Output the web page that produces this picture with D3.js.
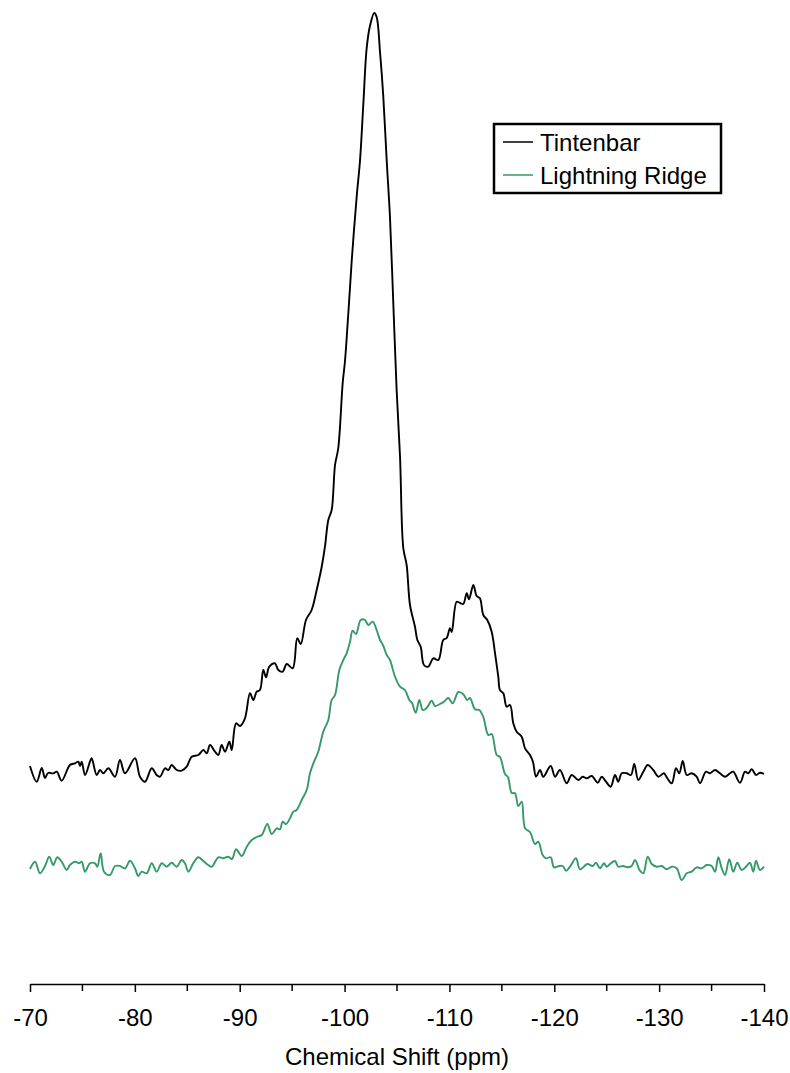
<!DOCTYPE html>
<html>
<head>
<meta charset="utf-8">
<script src="https://cdn.jsdelivr.net/npm/d3@7"></script>
<style>
  html, body { margin: 0; padding: 0; background: #fff; }
  svg { display: block; }
  text { font-family: "Liberation Sans", Arial, sans-serif; }
</style>
</head>
<body>
<svg id="chart" width="790" height="1073"></svg>
<script>
// ---- Data ----
const seriesNames = ["Tintenbar", "Lightning Ridge"];
const seriesColors = ["#000000", "#36996a"];

const tintenbarPpm = [-70.00,-70.64,-71.12,-71.43,-71.72,-72.22,-72.55,-73.02,-73.81,-74.29,-74.61,-74.77,-74.93,-75.25,-75.72,-75.88,-76.36,-76.68,-76.99,-77.47,-78.11,-78.58,-79.06,-80.01,-80.49,-80.97,-81.61,-82.08,-82.40,-82.87,-83.19,-83.51,-83.99,-84.47,-84.94,-85.42,-86.05,-86.53,-86.85,-87.17,-87.64,-87.96,-88.28,-88.60,-89.01,-89.24,-89.65,-90.03,-90.50,-90.98,-91.30,-91.62,-91.93,-92.25,-92.51,-92.82,-93.36,-93.68,-94.10,-94.48,-95.05,-95.49,-95.82,-96.32,-96.86,-97.34,-97.82,-98.13,-98.45,-98.77,-99.09,-99.40,-99.82,-100.04,-100.36,-100.68,-101.16,-101.47,-101.79,-102.11,-102.42,-102.83,-103.06,-103.38,-103.69,-104.02,-104.33,-104.65,-104.97,-105.29,-105.60,-105.92,-106.24,-106.72,-106.94,-107.26,-107.57,-107.98,-108.46,-108.94,-109.41,-109.74,-110.05,-110.22,-110.69,-111.01,-111.32,-111.65,-111.87,-112.28,-112.60,-112.91,-113.23,-113.61,-114.03,-114.35,-114.66,-114.82,-115.14,-115.46,-115.78,-116.09,-116.41,-116.89,-117.21,-117.68,-117.97,-118.26,-118.64,-118.95,-119.66,-120.07,-120.54,-121.18,-121.66,-122.29,-122.71,-123.09,-123.57,-124.14,-124.52,-124.93,-125.38,-125.79,-126.10,-126.43,-126.90,-127.31,-127.63,-128.01,-128.49,-128.91,-129.44,-129.92,-130.46,-130.72,-131.20,-131.61,-131.92,-132.25,-132.63,-133.10,-133.58,-133.90,-134.47,-134.85,-135.33,-135.80,-136.28,-136.76,-137.07,-137.71,-138.19,-138.50,-138.83,-139.24,-139.62,-140.00];
const tintenbarVal = [21.8,20.23,21.6,20.6,21.1,21.07,21.23,20.33,21.9,22.07,22.23,21.8,22.23,20.9,22.23,22.57,20.9,21.4,21.07,21.57,20.73,22.4,21.07,22.57,20.73,20.23,21.57,20.9,20.73,21.57,21.4,21.9,21.4,21.33,21.73,22.73,22.9,23.4,23.07,23.9,23.23,22.9,23.9,23.23,24.23,23.4,26.07,25.8,26.57,29.07,28.4,29.23,29.4,31.4,30.67,31.73,32.07,31.4,31.23,32.0,31.57,34.57,34.0,36.4,37.4,39.4,41.73,43.73,46.4,47.4,51.9,53.6,60.1,62.3,67.1,72.3,78.8,82.3,88.0,93.6,95.8,97.1,96.7,93.2,88.8,82.3,76.7,68.0,59.3,52.7,43.6,41.9,37.9,35.7,34.4,33.73,31.9,31.73,32.57,32.4,34.4,34.6,35.57,35.2,38.23,38.1,38.0,39.07,38.47,39.9,38.8,38.57,36.9,36.4,35.23,33.07,30.73,29.4,29.07,27.73,27.9,26.07,25.23,24.73,23.57,22.9,22.2,20.73,21.4,20.73,21.8,20.73,21.4,20.07,20.9,20.4,20.73,20.57,20.8,20.13,20.73,20.23,19.73,20.9,20.23,21.07,21.07,20.9,22.0,20.4,21.23,21.9,21.4,20.73,21.07,20.67,20.07,21.57,21.07,22.3,20.9,21.07,20.73,20.07,21.23,21.07,21.4,21.07,20.73,21.07,21.23,20.13,21.23,21.07,21.47,20.9,21.13,21.0];

const ridgePpm = [-70.00,-70.48,-70.95,-71.43,-71.84,-72.22,-72.60,-73.02,-73.50,-73.81,-74.29,-74.70,-74.93,-75.25,-75.72,-76.20,-76.42,-76.74,-77.06,-77.63,-78.11,-78.58,-79.06,-79.54,-80.01,-80.33,-80.65,-81.13,-81.61,-82.08,-82.56,-83.04,-83.51,-83.99,-84.47,-84.78,-85.10,-85.57,-86.05,-86.53,-87.00,-87.33,-87.96,-88.43,-88.91,-89.26,-89.65,-90.19,-90.67,-91.14,-91.62,-92.10,-92.63,-93.05,-93.53,-93.84,-94.10,-94.41,-94.80,-95.11,-95.43,-95.91,-96.39,-96.70,-97.02,-97.49,-97.97,-98.45,-98.77,-99.09,-99.50,-99.88,-100.20,-100.52,-100.77,-101.09,-101.54,-101.95,-102.26,-102.68,-103.06,-103.38,-103.66,-104.02,-104.33,-104.81,-105.29,-105.76,-106.17,-106.43,-106.78,-107.13,-107.45,-107.83,-108.31,-108.62,-109.10,-109.48,-109.89,-110.31,-110.85,-111.32,-111.70,-111.96,-112.44,-112.85,-113.23,-113.71,-114.03,-114.51,-114.82,-115.30,-115.58,-115.94,-116.25,-116.57,-116.89,-117.21,-117.68,-118.16,-118.47,-118.89,-119.21,-119.66,-119.97,-120.48,-120.80,-121.12,-121.50,-122.07,-122.45,-123.15,-123.66,-123.98,-124.36,-124.74,-125.00,-125.31,-125.79,-126.10,-126.58,-126.96,-127.38,-127.70,-128.17,-128.49,-128.91,-129.29,-129.77,-130.24,-130.72,-131.20,-131.67,-132.15,-132.63,-133.10,-133.58,-134.06,-134.53,-135.01,-135.33,-135.64,-135.97,-136.28,-136.69,-137.07,-137.45,-137.87,-138.35,-138.66,-138.98,-139.24,-139.62,-140.00];
const ridgeVal = [11.5,12.23,11.07,11.8,12.73,11.9,12.67,12.23,11.4,11.9,12.23,12.07,12.23,11.23,12.07,12.07,11.73,13.07,11.23,10.9,11.8,11.8,11.57,12.33,11.57,10.8,11.23,11.07,12.07,11.23,12.07,11.73,12.13,11.73,12.4,12.07,11.23,12.07,12.67,12.3,11.9,11.73,12.67,12.57,12.73,12.5,13.47,12.8,13.73,14.4,14.7,14.9,16.0,15.0,15.57,15.47,16.23,16.0,16.57,17.23,17.4,18.4,19.4,21.07,22.07,23.23,25.23,26.4,28.4,28.9,31.4,32.4,33.07,34.23,35.33,35.0,36.4,36.4,35.9,36.23,35.4,34.4,33.9,32.9,32.4,30.73,29.73,29.4,28.4,28.1,27.13,28.4,27.4,27.6,28.33,27.8,28.0,28.23,28.6,28.07,29.2,28.97,28.4,28.6,27.47,27.4,26.7,24.9,25.0,22.9,22.7,21.0,20.7,19.1,19.07,17.8,18.23,15.57,15.2,14.0,14.23,12.9,12.57,12.67,11.67,11.8,11.8,11.33,11.73,12.57,11.47,12.0,11.8,12.13,11.57,12.07,11.73,12.0,12.3,11.73,11.8,11.67,11.8,12.4,11.33,11.07,12.73,12.0,11.73,11.8,11.47,11.73,11.57,10.4,11.07,11.23,11.67,11.57,11.9,11.8,11.23,12.67,11.57,10.9,12.47,11.23,12.13,11.4,11.8,12.13,11.23,12.33,11.4,11.73];

const majorTicks = [-70, -80, -90, -100, -110, -120, -130, -140];
const minorTicks = [-75, -85, -95, -105, -115, -125, -135];
const xTitle = "Chemical Shift (ppm)";

// ---- Drawing ----
const svg = d3.select("#chart");
const x = d3.scaleLinear().domain([-70, -140]).range([30, 764]);
const y = d3.scaleLinear().domain([0, 98.4]).range([984, 0]);

const series = [
  { name: seriesNames[0], color: seriesColors[0], pts: tintenbarPpm.map((p, i) => [p, tintenbarVal[i]]) },
  { name: seriesNames[1], color: seriesColors[1], pts: ridgePpm.map((p, i) => [p, ridgeVal[i]]) }
];

const line = d3.line().x(d => x(d[0])).y(d => y(d[1])).curve(d3.curveCatmullRom.alpha(0.5));

series.forEach(s => {
  svg.append("path")
    .datum(s.pts)
    .attr("fill", "none")
    .attr("stroke", s.color)
    .attr("stroke-width", 1.9)
    .attr("stroke-linejoin", "round")
    .attr("d", line);
});

// X axis
const axisG = svg.append("g").attr("transform", "translate(0,984)");
const axis = d3.axisBottom(x)
  .tickValues(majorTicks)
  .tickSize(8)
  .tickSizeOuter(0)
  .tickPadding(17)
  .tickFormat(d => String(d));
axisG.call(axis);
axisG.select(".domain").attr("stroke", "#000").attr("stroke-width", 1.5);
axisG.selectAll(".tick line").attr("stroke", "#000").attr("stroke-width", 1.5);
axisG.selectAll(".tick text")
  .attr("fill", "#000")
  .style("font-family", "'Liberation Sans', Arial, sans-serif")
  .style("font-size", "24px");

const minorG = svg.append("g").attr("transform", "translate(0,984)");
minorG.selectAll("line").data(minorTicks).enter().append("line")
  .attr("x1", d => x(d)).attr("x2", d => x(d))
  .attr("y1", 0).attr("y2", 7)
  .attr("stroke", "#000").attr("stroke-width", 1.5);

svg.append("text")
  .attr("x", 397)
  .attr("y", 1065)
  .attr("text-anchor", "middle")
  .style("font-size", "24px")
  .attr("fill", "#000")
  .text(xTitle);

// Legend
const lg = svg.append("g").attr("transform", "translate(494,124)");
lg.append("rect")
  .attr("x", 0).attr("y", 0).attr("width", 227).attr("height", 69)
  .attr("fill", "#fff").attr("stroke", "#000").attr("stroke-width", 2.5);
series.forEach((s, i) => {
  const cy = 18 + i * 33;
  lg.append("line")
    .attr("x1", 9).attr("x2", 39).attr("y1", cy).attr("y2", cy)
    .attr("stroke", s.color).attr("stroke-width", 1.5);
  lg.append("text")
    .attr("x", 46).attr("y", cy + 8.5)
    .style("font-size", "24px")
    .attr("fill", "#000")
    .text(s.name);
});
</script>
</body>
</html>
